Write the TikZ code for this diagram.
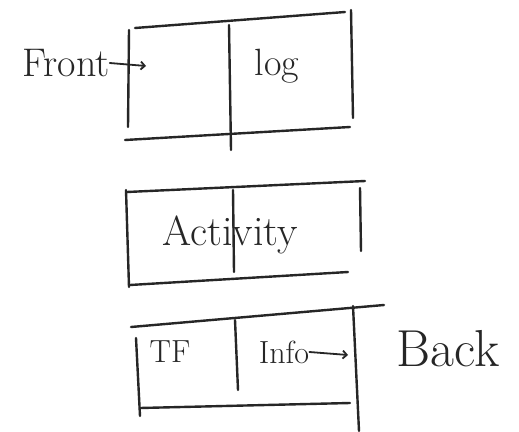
\documentclass[tikz,border=0pt]{standalone}
\usetikzlibrary{arrows.meta}
\begin{document}
\begin{tikzpicture}[x=1pt,y=-1pt,
  ink/.style={line width=2.4pt,black!85,line cap=round},
  hand/.style={font=\fontsize{34}{36}\selectfont,inner sep=0pt,black!85},
  tip/.style={ink,line width=1.8pt,-{Straight Barb[length=4pt]}}]
\useasboundingbox[fill=white] (0,0) rectangle (519,431);
% top box
\coordinate (t1) at (135,28); \coordinate (t2) at (345,12);
\coordinate (tl1) at (129,30); \coordinate (tl2) at (128,127);
\coordinate (tr1) at (351,10); \coordinate (tr2) at (353,118);
\coordinate (tm1) at (229,25); \coordinate (tm2) at (231,150);
\coordinate (tb1) at (125,140); \coordinate (tb2) at (350,127);
\draw[ink] (t1) -- (t2);
\draw[ink] (tl1) -- (tl2);
\draw[ink] (tr1) -- (tr2);
\draw[ink] (tm1) -- (tm2);
\draw[ink] (tb1) -- (tb2);
\node[hand,font=\fontsize{40}{42}\selectfont] (front) at (66,63) {Front};
\node[hand,font=\fontsize{38}{40}\selectfont] (log) at (277,66) {log};
\coordinate (fa) at (146,66);
\draw[tip] (front.east) -- (fa);
% middle box
\coordinate (m1) at (127,192); \coordinate (m2) at (365,181);
\coordinate (ml1) at (126,190); \coordinate (ml2) at (129,287);
\coordinate (mr1) at (360,188); \coordinate (mr2) at (361,251);
\coordinate (mm1) at (233,190); \coordinate (mm2) at (234,272);
\coordinate (mb1) at (130,285); \coordinate (mb2) at (348,272);
\draw[ink] (m1) -- (m2);
\draw[ink] (ml1) -- (ml2);
\draw[ink] (mr1) -- (mr2);
\draw[ink] (mm1) -- (mm2);
\draw[ink] (mb1) -- (mb2);
\node[hand,font=\fontsize{42}{44}\selectfont] (act) at (230,235) {Activity};
% bottom box
\coordinate (b1) at (131,327); \coordinate (b2) at (384,305);
\coordinate (bl1) at (136,338); \coordinate (bl2) at (140,416);
\coordinate (br1) at (353,306); \coordinate (br2) at (359,431);
\coordinate (bm1) at (235,320); \coordinate (bm2) at (238,390);
\coordinate (bb1) at (140,408); \coordinate (bb2) at (350,403);
\draw[ink] (b1) -- (b2);
\draw[ink] (bl1) -- (bl2);
\draw[ink] (br1) -- (br2);
\draw[ink] (bm1) -- (bm2);
\draw[ink] (bb1) -- (bb2);
\node[hand,font=\fontsize{32}{34}\selectfont] (tf) at (170,352) {TF};
\node[hand,font=\fontsize{32}{34}\selectfont] (info) at (284,352) {Info};
\coordinate (ia) at (348,355);
\draw[tip] (info.east) -- (ia);
\node[hand,font=\fontsize{52}{54}\selectfont] (back) at (448,349) {Back};
\end{tikzpicture}
\end{document}
